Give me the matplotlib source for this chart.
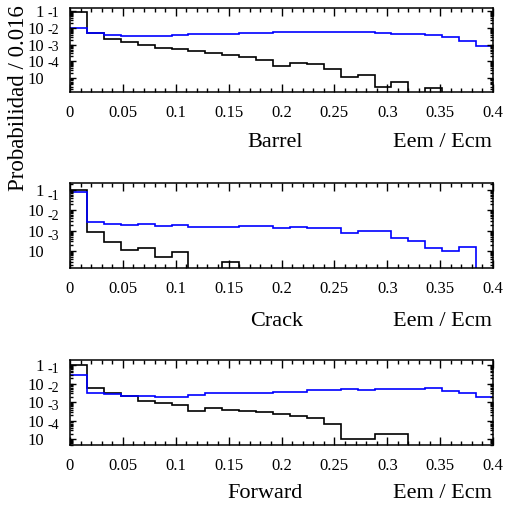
import numpy as np
import matplotlib
matplotlib.use("Agg")
import matplotlib.pyplot as plt
from matplotlib import transforms
from matplotlib.ticker import LogLocator, MultipleLocator, NullFormatter, FixedLocator

plt.rcParams['font.family'] = ['Liberation Serif', 'DejaVu Serif']

# 25 bins de 0.016 entre 0 et 0.4
bin_width = 0.016
edges = np.arange(26) * bin_width

barrel_black = [0.95, 0.051, 0.023, 0.0145, 0.010, 0.0063, 0.0055, 0.0040, 0.0032,
                0.0025, 0.0019, 0.00125, 5.4e-4, 7.8e-4, 7.1e-4, 3.5e-4, 1.1e-4,
                1.4e-4, 2.7e-5, 6.0e-5, 0, 2.6e-5, 0, 0, 0]
barrel_blue = [0.093, 0.047, 0.037, 0.035, 0.034, 0.032, 0.037, 0.042, 0.044,
               0.046, 0.051, 0.051, 0.056, 0.054, 0.056, 0.054, 0.054, 0.054,
               0.051, 0.046, 0.042, 0.039, 0.027, 0.017, 0.0079]

crack_black = [0.97, 0.0082, 0.0029, 0.0011, 0.0014, 5.2e-4, 8.5e-4, 0, 0,
               2.7e-4, 0, 0, 0, 0, 0, 0, 0, 0, 0, 0, 0, 0, 0, 0, 0]
crack_blue = [0.83, 0.027, 0.021, 0.019, 0.022, 0.017, 0.018, 0.0155, 0.0155,
              0.0145, 0.0162, 0.017, 0.014, 0.0152, 0.013, 0.0134, 0.0079,
              0.0095, 0.0099, 0.0043, 0.0031, 0.0014, 0.0010, 0.0015, 0]

forward_black = [0.95, 0.059, 0.033, 0.022, 0.0113, 0.0085, 0.0069, 0.0034,
                 0.0049, 0.0040, 0.0034, 0.0030, 0.0023, 0.0017, 0.0014, 7.0e-4,
                 1.0e-4, 1.0e-4, 1.9e-4, 1.9e-4, 0, 0, 0, 0, 0]
forward_blue = [0.29, 0.033, 0.026, 0.022, 0.022, 0.019, 0.0195, 0.024, 0.033,
                0.033, 0.031, 0.033, 0.035, 0.036, 0.043, 0.043, 0.050, 0.047,
                0.052, 0.050, 0.048, 0.059, 0.039, 0.033, 0.019]

panel_names = ["Barrel", "Crack", "Forward"]
xticks = [0, 0.05, 0.1, 0.15, 0.2, 0.25, 0.3, 0.35, 0.4]
xtick_labels = ["0", "0.05", "0.1", "0.15", "0.2", "0.25", "0.3", "0.35", "0.4"]

W, H = 507, 513
fig = plt.figure(figsize=(W / 100, H / 100), dpi=100)

# (haut, bas) en pixels, limites log
panels = [
    (8, 92, 10 ** -4.85, 10 ** 0.2, [0, -1, -2, -3, -4], barrel_black, barrel_blue),
    (183, 268, 10 ** -3.84, 10 ** 0.345, [0, -1, -2, -3], crack_black, crack_blue),
    (360, 445, 10 ** -4.31, 10 ** 0.27, [0, -1, -2, -3, -4], forward_black, forward_blue),
]
label_y = [143, 322, 493]

for i, (top, bot, ymin, ymax, expos, noir, bleu) in enumerate(panels):
    ax = fig.add_axes([70 / W, 1 - bot / H, 423 / W, (bot - top) / H])
    ax.set_yscale('log', nonpositive='clip')
    ax.stairs(noir, edges, baseline=None, color='black', lw=1.2)
    ax.stairs(bleu, edges, baseline=None, color='#0000ff', lw=1.2)
    ax.set_xlim(0, 0.4)
    ax.set_ylim(ymin, ymax)

    ax.set_xticks(xticks)
    ax.set_xticklabels(xtick_labels)
    ax.xaxis.set_minor_locator(MultipleLocator(0.01))

    ax.yaxis.set_major_locator(FixedLocator([10.0 ** e for e in expos]))
    ax.set_yticklabels(["1" if e == 0 else "10" for e in expos])
    ax.yaxis.set_minor_locator(LogLocator(base=10, subs=np.arange(2, 10), numticks=20))
    ax.yaxis.set_minor_formatter(NullFormatter())

    ax.tick_params(which='both', direction='in', top=True, right=True, width=1.0, labelsize=12)
    ax.tick_params(axis='x', which='major', length=6, pad=9.5)
    ax.tick_params(axis='x', which='minor', length=3)
    ax.tick_params(axis='y', which='major', length=4, pad=19)
    ax.tick_params(axis='y', which='minor', length=2.5)
    for s in ax.spines.values():
        s.set_linewidth(1.1)

    # exposants a la ROOT, decales vers le haut
    trans = transforms.blended_transform_factory(ax.transAxes, ax.transData)
    trans = transforms.offset_copy(trans, fig=fig, y=14, units='dots')
    for e in expos[1:]:
        ax.text(-23 / 423, 10.0 ** e, str(e), transform=trans, ha='left', va='center',
                fontsize=10, clip_on=False)

    fig.text(303 / W, 1 - label_y[i] / H, panel_names[i], ha='right', va='center', fontsize=16)
    fig.text(492 / W, 1 - label_y[i] / H, "Eem / Ecm", ha='right', va='center', fontsize=16)

fig.text(19 / W, 1 - 5 / H, "Probabilidad / 0.016", rotation=90, ha='center', va='top', fontsize=16.5)

fig.savefig("out.png", dpi=100)
